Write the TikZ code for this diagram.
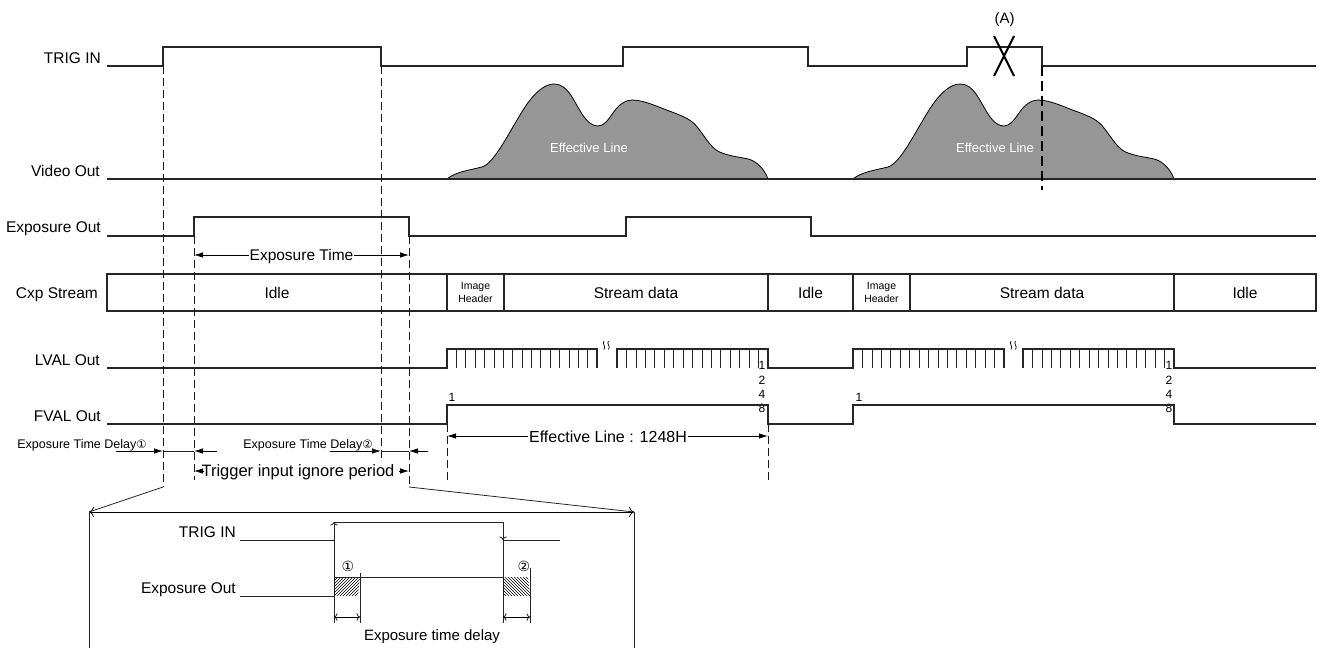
\documentclass[tikz,border=0pt]{standalone}
\usepackage{fontspec}
\setmainfont{Liberation Sans}
\newfontfamily\dvf{DejaVu Sans}
\usetikzlibrary{arrows.meta,patterns}
\newcommand\fsz[1]{\fontsize{#1}{#1}\selectfont}
\definecolor{blobgray}{RGB}{150,150,150}
\begin{document}
\begin{tikzpicture}[x=1pt,y=-1pt,
  sig/.style={line width=1.1pt,draw=black!85},
  thinl/.style={line width=0.8pt,draw=black!85},
  dsh/.style={line width=0.9pt,draw=black!90,dash pattern=on 8pt off 4pt},
  lbl/.style={anchor=base east,inner sep=0pt,font=\fsz{15.5}},
  txt/.style={anchor=base,inner sep=0pt,font=\fsz{15.5}},
  dimr/.style={line width=0.8pt,-{Latex[length=9pt,width=5.5pt]}},
  odim/.style={line width=0.7pt,{To[length=3.5pt]}-{To[length=3.5pt]}},
  tick/.style={line width=0.75pt,draw=black!85},
  blob/.pic={
    \filldraw[fill=blobgray,draw=black,line width=0.8pt] (0,179)
      .. controls (8,172) and (23,170) .. (35,167)
      .. controls (48,163) and (63,130) .. (78,107)
      .. controls (88,92) and (98,84) .. (107,84)
      .. controls (121,84) and (126,100) .. (135,114)
      .. controls (141,123) and (146,126) .. (151,126)
      .. controls (157,126) and (161,120) .. (166,113)
      .. controls (172,104) and (179,100) .. (185,100)
      .. controls (198,100) and (213,108) .. (225,112)
      .. controls (238,117) and (245,120) .. (251,128)
      .. controls (259,138) and (265,150) .. (275,153)
      .. controls (288,158) and (301,157) .. (308,162)
      .. controls (315,167) and (319,173) .. (321,179) -- cycle;
    \node[anchor=base,inner sep=0pt,text=white,font=\fsz{13}] (eff) at (142,152) {Effective Line};
  }
]
\useasboundingbox (0,0) rectangle (1322,648);

% ---------- row labels
\node[lbl] (lTrig) at (101,63) {TRIG IN};
\node[lbl] (lVideo) at (100,176) {Video Out};
\node[lbl] (lExp) at (101,232) {Exposure Out};
\node[lbl] (lCxp) at (98,298) {Cxp Stream};
\node[lbl] (lLval) at (100,365) {LVAL Out};
\node[lbl] (lFval) at (101,421) {FVAL Out};

% ---------- TRIG IN
\draw[sig] (107,66) -- (163,66) -- (163,47) -- (381,47) -- (381,66) -- (623,66) -- (623,47) -- (808,47) -- (808,66) -- (967,66) -- (967,47) -- (1042,47) -- (1042,66) -- (1316,66);
\node[inner sep=0pt,font=\fsz{15}] (A) at (1004.5,20) {(A)};
\draw[line width=2pt] (994,36) -- (1014,76) (1014,36) -- (994,76);

% ---------- Video out
\pic (b1) at (447,0) {blob};
\pic (b2) at (853,0) {blob};
\draw[sig] (107,179) -- (1316,179);
\draw[line width=2.6pt,dash pattern=on 10pt off 5pt] (1042,66) -- (1042,190);

% ---------- Exposure out
\draw[sig] (107,236) -- (194,236) -- (194,217) -- (409,217) -- (409,236) -- (626,236) -- (626,217) -- (811,217) -- (811,236) -- (1316,236);
\draw[dimr] (301,255) -- (194,255);
\draw[dimr] (301,255) -- (409,255);
\node[anchor=base,fill=white,inner sep=1pt,font=\fsz{15.5}] (et) at (301.5,260) {Exposure Time};

% ---------- Cxp stream
\draw[sig] (107,274) rectangle (1316,311);
\foreach \xx in {447,504,768,853,910,1174} \draw[sig] (\xx,274) -- (\xx,311);
\node[txt] (c1) at (277,298) {Idle};
\node[anchor=center,inner sep=0pt,align=center,font=\fontsize{10.5}{12.5}\selectfont] (c2) at (475.5,292.5) {Image\\Header};
\node[txt] (c3) at (636,298) {Stream data};
\node[txt] (c4) at (810.5,298) {Idle};
\node[anchor=center,inner sep=0pt,align=center,font=\fontsize{10.5}{12.5}\selectfont] (c5) at (881.5,292.5) {Image\\Header};
\node[txt] (c6) at (1042,298) {Stream data};
\node[txt] (c7) at (1245,298) {Idle};

% ---------- LVAL
\draw[sig] (107,368) -- (447,368) -- (447,349) -- (597,349) -- (597,368);
\draw[sig] (617,368) -- (617,349) -- (768,349) -- (768,368) -- (853,368) -- (853,349) -- (1004,349) -- (1004,368);
\draw[sig] (1023,368) -- (1023,349) -- (1174,349) -- (1174,368) -- (1316,368);
\foreach \i in {1,...,15} {
  \draw[tick] ({447+\i*150/16},349) -- ({447+\i*150/16},368);
  \draw[tick] ({617+\i*151/16},349) -- ({617+\i*151/16},368);
  \draw[tick] ({853+\i*151/16},349) -- ({853+\i*151/16},368);
  \draw[tick] ({1023+\i*151/16},349) -- ({1023+\i*151/16},368);
}
\foreach \xx in {604,608.5,1011,1015.5}
  \draw[line width=0.7pt] (\xx,341) .. controls (\xx-2.5,343.5) and (\xx+2.5,346.5) .. (\xx,349.5);
\foreach \xx/\nm in {762/n1,1169/n2} {
  \node[inner sep=0pt,font=\fsz{12}] (\nm a) at (\xx,365) {1};
  \node[inner sep=0pt,font=\fsz{12}] (\nm b) at (\xx,380) {2};
  \node[inner sep=0pt,font=\fsz{12}] (\nm c) at (\xx,394) {4};
  \node[inner sep=0pt,font=\fsz{12}] (\nm d) at (\xx,408) {8};
}
\node[inner sep=0pt,font=\fsz{12}] (f1) at (452,397) {1};
\node[inner sep=0pt,font=\fsz{12}] (f2) at (859,397) {1};

% ---------- FVAL
\draw[sig] (107,424) -- (447,424) -- (447,405) -- (768,405) -- (768,424) -- (853,424) -- (853,405) -- (1174,405) -- (1174,424) -- (1316,424);
\draw[dimr] (607,436) -- (447,436);
\draw[dimr] (607,436) -- (768,436);
\node[anchor=base,fill=white,inner sep=1pt,font=\fsz{16}] (el) at (608,442) {Effective Line : 1248H};
\draw[dsh] (447,424) -- (447,480);
\draw[dsh] (768,424) -- (768,480);

% ---------- main dashed guide lines
\draw[dsh] (163,66) -- (163,487);
\draw[dsh] (381,66) -- (381,458);
\draw[dsh] (194,236) -- (194,480);
\draw[dsh] (409,236) -- (409,487);

% ---------- delays
\node[anchor=base,inner sep=0pt,font=\fsz{12.5}] (d1) at (82,448) {Exposure Time Delay{\dvf\fsz{11.5}①}};
\node[anchor=base,inner sep=0pt,font=\fsz{12.5}] (d2) at (308,448) {Exposure Time Delay{\dvf\fsz{11.5}②}};
\draw[dimr] (116,451) -- (163,451);
\draw[thinl] (163,451) -- (194,451);
\draw[dimr] (217,451) -- (194,451);
\draw[dimr] (330,451) -- (381,451);
\draw[thinl] (381,451) -- (409,451);
\draw[dimr] (428,451) -- (409,451);
\draw[dimr] (204,471) -- (194,471);
\draw[dimr] (399,471) -- (409,471);
\node[anchor=base,inner sep=0pt,font=\fsz{16.5}] (tip) at (298,476) {Trigger input ignore period};

% ---------- inset
\draw[thinl] (163,487) -- (89,512);
\draw[thinl] (409,487) -- (634,512);
\draw[odim,{To[length=5pt]}-{To[length=5pt]}] (89,512) -- (634,512);
\draw[thinl] (89,512) -- (89,648);
\draw[thinl] (634,512) -- (634,648);

\node[lbl] (iTrig) at (236,537) {TRIG IN};
\draw[thinl] (240,540) -- (334,540);
\draw[thinl,-{To[length=3.5pt]}] (334,623) -- (334,522);
\draw[thinl] (334,522) -- (503,522);
\draw[thinl] (503,522) -- (503,623);
\draw[thinl,-{To[length=3.5pt]}] (503,530) -- (503,540);
\draw[thinl] (503,540) -- (560,540);

\node[lbl] (iExp) at (236,593) {Exposure Out};
\draw[thinl] (240,596) -- (334,596);
\fill[pattern=north east lines] (334,577) -- (360,577) -- (358,596) -- (334,596) -- cycle;
\draw[thinl] (334,577) -- (360,577);
\draw[thinl] (360,573) -- (360,623);
\draw[thinl] (360,577) -- (503,577);
\fill[pattern=north west lines] (503,577) -- (528,577) -- (530,596) -- (503,596) -- cycle;
\draw[thinl] (530,568) -- (530,623);
\draw[odim] (334,617) -- (360,617);
\draw[odim] (503,617) -- (530,617);
\node[inner sep=0pt,font=\dvf\fsz{14}] (o1) at (348,566) {①};
\node[inner sep=0pt,font=\dvf\fsz{14}] (o2) at (524,566) {②};
\node[anchor=base,inner sep=0pt,font=\fsz{15}] (etd) at (432,640) {Exposure time delay};
\end{tikzpicture}
\end{document}
